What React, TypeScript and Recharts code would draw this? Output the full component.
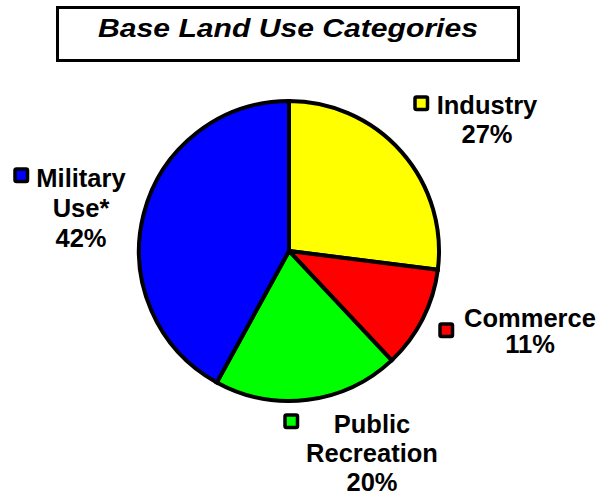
import { PieChart, Pie, Cell } from 'recharts'

const categories = ['Industry', 'Commerce', 'Public Recreation', 'Military Use*']
const shares = [27, 11, 20, 42]
const labelLines = [['Industry'], ['Commerce'], ['Public', 'Recreation'], ['Military', 'Use*']]
const colors = ['#FFFF00', '#FF0000', '#00FF00', '#0000FF']

// where each label block sits (text centre x, first baseline y, line step, legend square)
const labelLayout = [
  { x: 487, y: 114, step: 29, sqX: 413, sqY: 95 },
  { x: 530, y: 327, step: 26, sqX: 438, sqY: 322 },
  { x: 372, y: 433, step: 29, sqX: 283, sqY: 413 },
  { x: 81, y: 187, step: 30, sqX: 13, sqY: 167 },
]

const font = '"Liberation Sans", Arial, Helvetica, sans-serif'

const data = categories.map((name, i) => ({ name, value: shares[i] }))

function renderLabel(props: any) {
  const { index } = props
  const pos = labelLayout[index]
  const lines = [...labelLines[index], `${shares[index]}%`]
  return (
    <g key={`lbl-${index}`}>
      <rect x={pos.sqX + 2} y={pos.sqY + 2} width={12.5} height={12.5} rx={1.5}
        fill={colors[index]} stroke="#000" strokeWidth={3.5} />
      <text textAnchor="middle" fontFamily={font} fontWeight="bold" fontSize={25.5} fill="#000">
        {lines.map((t, k) => (
          <tspan key={k} x={pos.x} y={pos.y + k * pos.step}>{t}</tspan>
        ))}
      </text>
    </g>
  )
}

export default function App() {
  return (
    <div style={{ position: 'absolute', left: 0, top: 0, width: 602, height: 495, background: '#fff' }}>
      <svg width={602} height={80} style={{ position: 'absolute', left: 0, top: 0 }}>
        <rect x={57.5} y={7.5} width={461} height={53} fill="#fff" stroke="#000" strokeWidth={3} />
        <text x={288} y={37} textAnchor="middle" fontFamily={font} fontWeight="bold" fontStyle="italic"
          fontSize={26} textLength={380} lengthAdjust="spacingAndGlyphs" fill="#000">
          Base Land Use Categories
        </text>
      </svg>
      <div style={{ position: 'absolute', left: 0, top: 0 }}>
        <PieChart width={602} height={495} margin={{ top: 0, right: 0, bottom: 0, left: 0 }}>
          <Pie
            data={data}
            dataKey="value"
            nameKey="name"
            cx={289}
            cy={251}
            outerRadius={150}
            startAngle={90}
            endAngle={-270}
            stroke="#000"
            strokeWidth={4}
            label={renderLabel}
            labelLine={false}
            isAnimationActive={false}
          >
            {data.map((d, i) => (
              <Cell key={d.name} fill={colors[i]} />
            ))}
          </Pie>
        </PieChart>
      </div>
    </div>
  )
}
